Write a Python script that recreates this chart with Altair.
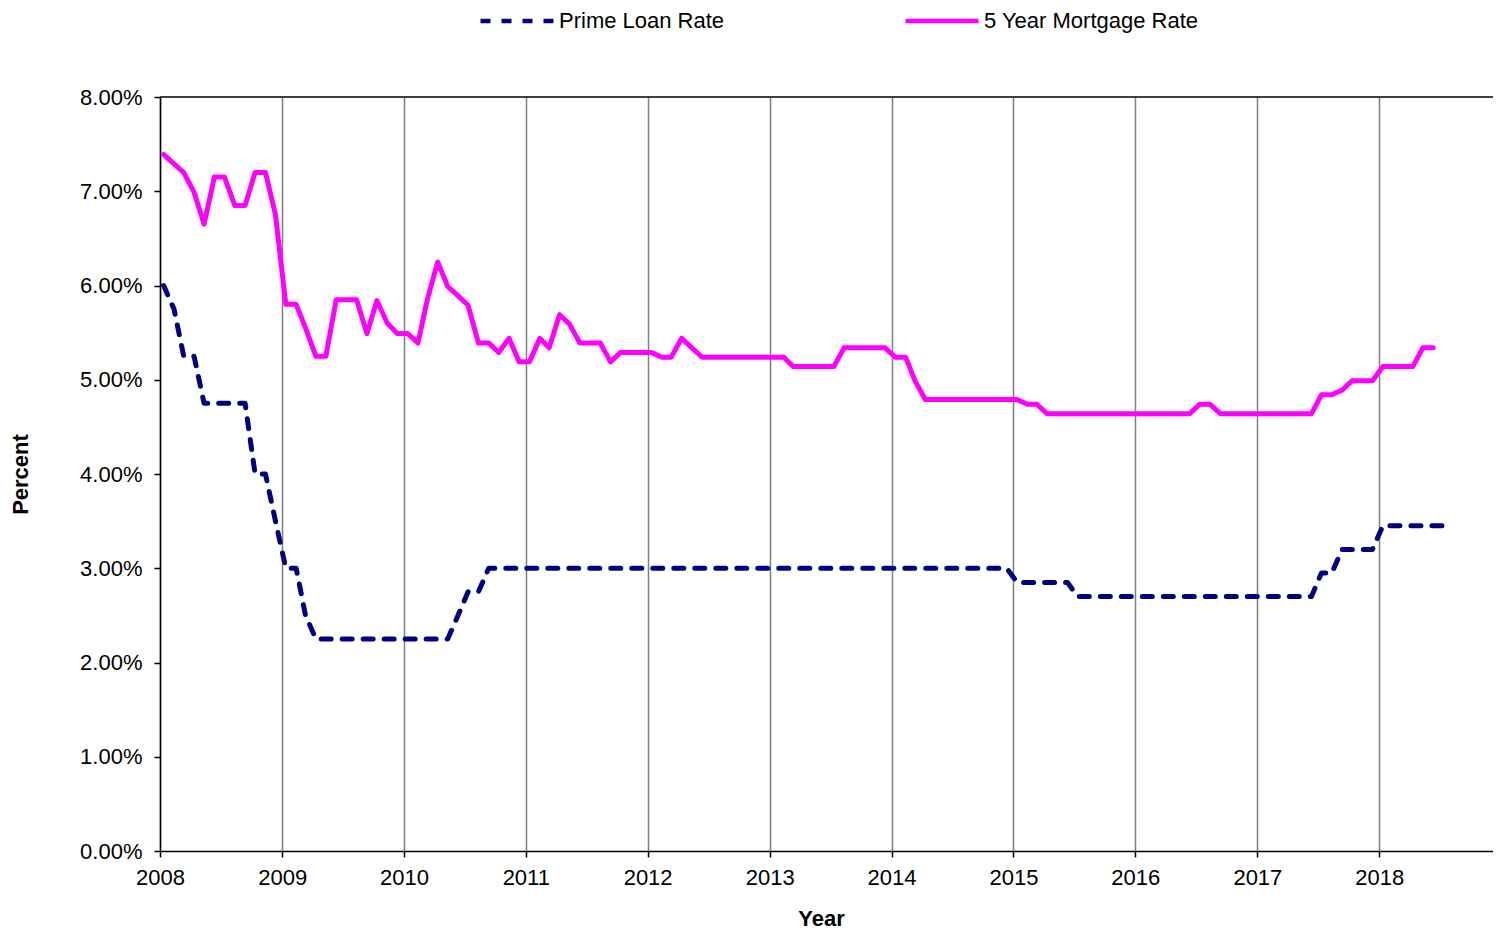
import altair as alt
import pandas as pd

series_names = ["Prime Loan Rate", "5 Year Mortgage Rate"]

# Prime loan rate (%), monthly from Jan 2008
prime_2008 = [6.00, 5.75, 5.25, 5.25, 4.75, 4.75, 4.75, 4.75, 4.75, 4.00, 4.00, 3.50]
prime_2009 = [3.00, 3.00, 2.50, 2.25, 2.25, 2.25, 2.25, 2.25, 2.25, 2.25, 2.25, 2.25]
prime_2010 = [2.25, 2.25, 2.25, 2.25, 2.25, 2.50, 2.75, 2.75, 3.00, 3.00, 3.00, 3.00]
prime_2011 = [3.00] * 12
prime_2012 = [3.00] * 12
prime_2013 = [3.00] * 12
prime_2014 = [3.00] * 12
prime_2015 = [2.85, 2.85, 2.85, 2.85, 2.85, 2.85, 2.70, 2.70, 2.70, 2.70, 2.70, 2.70]
prime_2016 = [2.70] * 12
prime_2017 = [2.70, 2.70, 2.70, 2.70, 2.70, 2.70, 2.95, 2.95, 3.20, 3.20, 3.20, 3.20]
prime_2018 = [3.45, 3.45, 3.45, 3.45, 3.45, 3.45, 3.45]

# 5 year mortgage rate (%), monthly from Jan 2008
mort_2008 = [7.39, 7.29, 7.20, 6.99, 6.65, 7.15, 7.15, 6.85, 6.85, 7.20, 7.20, 6.75]
mort_2009 = [5.80, 5.80, 5.55, 5.25, 5.25, 5.85, 5.85, 5.85, 5.49, 5.84, 5.60, 5.49]
mort_2010 = [5.49, 5.39, 5.85, 6.25, 5.99, 5.89, 5.79, 5.39, 5.39, 5.29, 5.44, 5.19]
mort_2011 = [5.19, 5.44, 5.34, 5.69, 5.59, 5.39, 5.39, 5.39, 5.19, 5.29, 5.29, 5.29]
mort_2012 = [5.29, 5.24, 5.24, 5.44, 5.34, 5.24, 5.24, 5.24, 5.24, 5.24, 5.24, 5.24]
mort_2013 = [5.24, 5.24, 5.14, 5.14, 5.14, 5.14, 5.14, 5.34, 5.34, 5.34, 5.34, 5.34]
mort_2014 = [5.24, 5.24, 4.99, 4.79, 4.79, 4.79, 4.79, 4.79, 4.79, 4.79, 4.79, 4.79]
mort_2015 = [4.79, 4.74, 4.74, 4.64, 4.64, 4.64, 4.64, 4.64, 4.64, 4.64, 4.64, 4.64]
mort_2016 = [4.64, 4.64, 4.64, 4.64, 4.64, 4.64, 4.74, 4.74, 4.64, 4.64, 4.64, 4.64]
mort_2017 = [4.64, 4.64, 4.64, 4.64, 4.64, 4.64, 4.84, 4.84, 4.89, 4.99, 4.99, 4.99]
mort_2018 = [5.14, 5.14, 5.14, 5.14, 5.34, 5.34]

year_labels = list(range(2008, 2019))

prime = (prime_2008 + prime_2009 + prime_2010 + prime_2011 + prime_2012 + prime_2013
         + prime_2014 + prime_2015 + prime_2016 + prime_2017 + prime_2018)
mort = (mort_2008 + mort_2009 + mort_2010 + mort_2011 + mort_2012 + mort_2013
        + mort_2014 + mort_2015 + mort_2016 + mort_2017 + mort_2018)


def month_dates(n):
    out = []
    for i in range(n):
        y = 2008 + i // 12
        m = i % 12 + 1
        out.append(f"{y}-{m:02d}-12T00:00:00")
    return out


rows = []
for d, v in zip(month_dates(len(prime)), prime):
    rows.append({"date": d, "rate": v / 100, "series": series_names[0]})
for d, v in zip(month_dates(len(mort)), mort):
    rows.append({"date": d, "rate": v / 100, "series": series_names[1]})
df = pd.DataFrame(rows)

FONT = "Liberation Sans"
FS = 22

x_enc = alt.X(
    "date:T",
    scale=alt.Scale(domain=[alt.DateTime(year=2008, month=1, date=1),
                            alt.DateTime(year=2018, month=12, date=8)]),
    axis=alt.Axis(
        values=[alt.DateTime(year=y, month=1, date=1) for y in year_labels],
        format="%Y",
        title="Year",
        titleFontSize=FS,
        titleFontWeight="bold",
        titleX=661,
        titleY=67,
        titleBaseline="middle",
        labelFontSize=FS,
        labelPadding=10,
        labelColor="black",
        grid=True,
        gridColor="#7f7f7f",
        gridWidth=1.5,
        domainColor="black",
        domainWidth=1.5,
        tickColor="black",
        tickWidth=1.5,
        tickSize=6,
        labelFlush=False,
    ),
)

y_enc = alt.Y(
    "rate:Q",
    scale=alt.Scale(domain=[0, 0.08]),
    axis=alt.Axis(
        values=[i / 100 for i in range(0, 9)],
        format=".2%",
        title="Percent",
        titleFontSize=FS,
        titleFontWeight="bold",
        titleAngle=270,
        titleX=-140,
        titleY=377,
        titleBaseline="middle",
        titleAlign="center",
        labelFontSize=FS,
        labelPadding=12,
        labelColor="black",
        grid=False,
        domainColor="black",
        domainWidth=1.5,
        tickColor="black",
        tickWidth=1.5,
        tickSize=6,
    ),
)

legend_props = dict(
    title=None,
    orient="none",
    legendX=318,
    legendY=-115,
    direction="horizontal",
    symbolType="stroke",
    symbolSize=5329,
    symbolStrokeWidth=4.5,
    labelFontSize=FS,
    labelColor="black",
    labelOffset=3,
    columnPadding=171,
    labelLimit=400,
    padding=0,
)

lines = alt.Chart(df).mark_line(strokeWidth=5, strokeCap="round", strokeJoin="round").encode(
    x=x_enc,
    y=y_enc,
    color=alt.Color("series:N",
                    scale=alt.Scale(domain=series_names, range=["#000080", "#FF00FF"]),
                    sort=series_names,
                    legend=alt.Legend(**legend_props)),
    strokeDash=alt.StrokeDash("series:N",
                              scale=alt.Scale(domain=series_names, range=[[10, 11], [1, 0]]),
                              sort=series_names,
                              legend=alt.Legend(**legend_props)),
)

top_frame = alt.Chart(alt.Data(values=[{"v": 0.08}])).mark_rule(
    color="black", strokeWidth=1.5
).encode(y=alt.Y("v:Q"))

chart = alt.layer(lines, top_frame).properties(
    width=1333,
    height=754,
    autosize=alt.AutoSizeParams(type="none"),
    padding={"left": 152, "top": 89, "right": 0, "bottom": 79},
).configure(
    font=FONT,
).configure_view(
    stroke=None,
)

chart.save("out.html", embed_options={"renderer": "svg", "actions": False})
